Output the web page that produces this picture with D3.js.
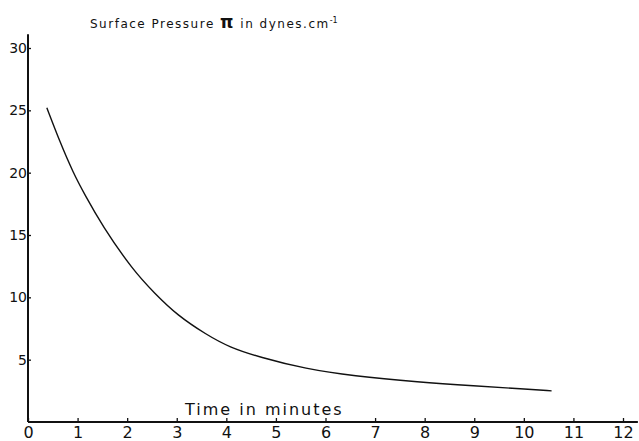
<!DOCTYPE html>
<html>
<head>
<meta charset="utf-8">
<script src="https://cdn.jsdelivr.net/npm/d3@7"></script>
<style>
  body { margin: 0; background: #fff; }
  text { font-family: "DejaVu Sans", sans-serif; fill: #111; }
</style>
</head>
<body>
<div id="chart_area"></div>
<script>
// Values.
var time_minutes = [0.38, 0.64, 0.91, 1.15, 1.49, 2.11, 2.56, 3.0, 3.6, 4.06, 4.67, 5.61, 6.54, 7.89, 9.0, 10.0, 10.56];
var pressure = [25.2, 22.5, 20.0, 18.2, 15.8, 12.2, 10.3, 8.6, 7.0, 6.0, 5.2, 4.25, 3.7, 3.2, 2.9, 2.65, 2.5];
var x_ticks = [0, 1, 2, 3, 4, 5, 6, 7, 8, 9, 10, 11, 12];
var y_ticks = [5, 10, 15, 20, 25, 30];
var y_title = ["Surface Pressure ", "\u03C0", " in dynes.cm", "-1"];
var x_title = "Time in minutes";

var frame_width = 639;
var frame_height = 441;

var frame = d3.select("#chart_area").append("svg")
	.attr("width", frame_width)
	.attr("height", frame_height);

var xScale = d3.scaleLinear().domain([0, 12]).range([28, 623]);
var yScale = d3.scaleLinear().domain([0, 30]).range([422, 48]);

// x axis: ticks point up into the plot
var xAxis = d3.axisTop(xScale).tickValues(x_ticks).tickSize(4).tickFormat(d3.format("d"));
var gx = frame.append("g")
	.attr("transform", "translate(0," + yScale(0) + ")")
	.call(xAxis);
gx.select(".domain").remove();
gx.append("line")
	.attr("x1", xScale(0)).attr("x2", xScale(12.3))
	.attr("stroke", "#111").attr("stroke-width", 2);
gx.selectAll(".tick line").attr("stroke", "#111").attr("stroke-width", 1.3);
gx.selectAll(".tick text")
	.attr("y", 16)
	.attr("dy", "0")
	.style("font-size", "16px")
	.style("font-family", "DejaVu Sans, sans-serif")
	.attr("fill", "#111");

// y axis: ticks point right into the plot
var yAxis = d3.axisRight(yScale).tickValues(y_ticks).tickSize(3);
var gy = frame.append("g")
	.attr("transform", "translate(" + xScale(0) + ",0)")
	.call(yAxis);
gy.select(".domain").remove();
gy.append("line")
	.attr("y1", yScale(0)).attr("y2", yScale(31.1))
	.attr("stroke", "#111").attr("stroke-width", 2);
gy.selectAll(".tick line").attr("stroke", "#111").attr("stroke-width", 1.3);
gy.selectAll(".tick text")
	.attr("x", -1)
	.attr("text-anchor", "end")
	.style("font-size", "14px")
	.style("font-family", "DejaVu Sans, sans-serif")
	.attr("fill", "#111");

// the decay curve (smoothed through the read points)
var line = d3.line()
	.x(function(d, i) { return xScale(time_minutes[i]); })
	.y(function(d) { return yScale(d); })
	.curve(d3.curveBasis);

frame.append("path")
	.datum(pressure)
	.attr("d", line)
	.attr("fill", "none")
	.attr("stroke", "#111")
	.attr("stroke-width", 1.4);

// titles
var yt = frame.append("text")
	.attr("x", 90)
	.attr("y", 28)
	.style("font-size", "12px")
	.style("letter-spacing", "1.5px")
	.attr("fill", "#333");
yt.append("tspan").text(y_title[0]);
yt.append("tspan")
	.style("font-size", "17px")
	.style("font-weight", "bold")
	.attr("fill", "#111")
	.text(y_title[1]);
yt.append("tspan").text(y_title[2]);
yt.append("tspan")
	.attr("dy", -5)
	.style("font-size", "8px")
	.style("letter-spacing", "0px")
	.text(y_title[3]);

frame.append("text")
	.attr("x", 185)
	.attr("y", 415)
	.style("font-size", "16px")
	.style("letter-spacing", "2px")
	.text(x_title);
</script>
</body>
</html>
